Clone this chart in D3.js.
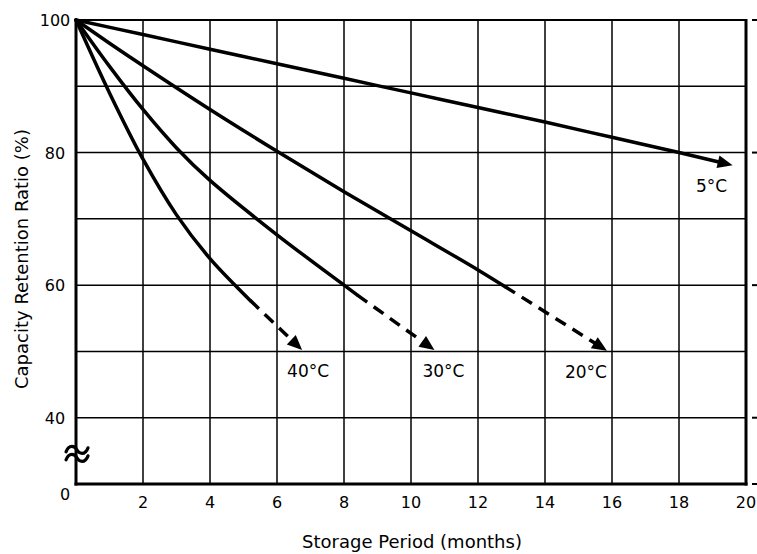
<!DOCTYPE html>
<html>
<head>
<meta charset="utf-8">
<script src="https://cdn.jsdelivr.net/npm/d3@7"></script>
<style>
  html, body { margin: 0; padding: 0; background: #fff; }
  svg { display: block; font-family: "DejaVu Sans", Verdana, sans-serif; }
</style>
</head>
<body>
<svg id="chart" width="757" height="554"></svg>
<script>
// Capacity retention vs. storage period at several temperatures
const xTicks = [2, 4, 6, 8, 10, 12, 14, 16, 18, 20];
const yTicks = [100, 80, 60, 40];
const yGrid = [40, 50, 60, 70, 80, 90];
const yBreakLabel = "0";

const temps = ["5°C", "20°C", "30°C", "40°C"];
// measured part of each curve: [month, %]
const solid5 = [[0, 100], [2, 97.8], [4, 95.6], [6, 93.4], [8, 91.2], [10, 89.0], [12, 86.8], [14, 84.6], [16, 82.3], [18, 80.0]];
const solid20 = [[0, 100], [1, 96.5], [2, 93.1], [4, 86.5], [6, 80.2], [8, 74.1], [10, 68.2], [12, 62.3], [12.8, 59.8]];
const solid30 = [[0, 100], [1, 93.0], [2, 86.5], [3, 80.7], [4, 75.8], [6, 67.6], [8, 60.0], [8.4, 58.5]];
const solid40 = [[0, 100], [1, 89.0], [2, 79.0], [3, 70.6], [4, 64.0], [5, 58.7], [5.2, 57.7]];
// arrow tips (projected end of each curve)
const tips = [[19.6, 78.1], [15.85, 50.1], [10.7, 50.2], [6.75, 50.2]];
const projected = [false, true, true, true];

const svg = d3.select("#chart");
const x = d3.scaleLinear().domain([0, 20]).range([76, 746]);
const y = d3.scaleLinear().domain([30, 100]).range([484, 20]);

// grid
const grid = svg.append("g").attr("stroke", "#000").attr("stroke-width", 1.5);
grid.selectAll("line.v").data(xTicks.slice(0, -1)).join("line")
  .attr("x1", d => x(d)).attr("x2", d => x(d))
  .attr("y1", y(30)).attr("y2", y(100));
grid.selectAll("line.h").data(yGrid).join("line")
  .attr("x1", x(0)).attr("x2", x(20))
  .attr("y1", d => y(d)).attr("y2", d => y(d));

// curves
const solids = [solid5, solid20, solid30, solid40];
const line = d3.line().x(d => x(d[0])).y(d => y(d[1])).curve(d3.curveCatmullRom.alpha(0.5));
const curves = svg.append("g").attr("fill", "none").attr("stroke", "#000")
  .attr("stroke-width", 3.5).attr("stroke-linejoin", "round");

const headLen = 15, headHalf = 6.5;
solids.forEach((pts, i) => {
  curves.append("path").attr("d", line(pts)).attr("stroke-linecap", "round");
  const s = pts[pts.length - 1];
  const sx = x(s[0]), sy = y(s[1]);
  const tx = x(tips[i][0]), ty = y(tips[i][1]);
  const len = Math.hypot(tx - sx, ty - sy);
  const ux = (tx - sx) / len, uy = (ty - sy) / len;
  const bx = tx - ux * headLen, by = ty - uy * headLen;
  curves.append("line")
    .attr("x1", sx).attr("y1", sy).attr("x2", bx + ux * 2).attr("y2", by + uy * 2)
    .attr("stroke-dasharray", projected[i] ? "12,8" : null);
  svg.append("path")
    .attr("d", `M${tx},${ty}L${bx - uy * headHalf},${by + ux * headHalf}L${bx + uy * headHalf},${by - ux * headHalf}Z`)
    .attr("fill", "#000");
  const dx = (i === 0 || i === 1) ? -21 : (i === 2 ? 9 : 6);
  svg.append("text")
    .attr("x", tx + dx).attr("y", ty + 27)
    .attr("text-anchor", "middle").attr("font-size", 17)
    .text(temps[i]);
});

// frame
const frame = svg.append("g").attr("stroke", "#000").attr("fill", "none");
frame.append("line").attr("x1", x(0)).attr("x2", x(20)).attr("y1", y(100)).attr("y2", y(100)).attr("stroke-width", 2);
frame.append("line").attr("x1", x(20)).attr("x2", x(20)).attr("y1", y(100) - 1).attr("y2", y(30) + 1.5).attr("stroke-width", 3);
frame.append("line").attr("x1", x(0)).attr("x2", x(0)).attr("y1", y(100) - 1).attr("y2", y(30) + 1.5).attr("stroke-width", 3);
frame.append("line").attr("x1", x(0) - 1.5).attr("x2", x(20) + 1.5).attr("y1", y(30)).attr("y2", y(30)).attr("stroke-width", 3);
// small outer ticks on the right edge
frame.selectAll("line.rt").data(yTicks.concat([30])).join("line")
  .attr("x1", x(20) + 6).attr("x2", x(20) + 12)
  .attr("y1", d => y(d)).attr("y2", d => y(d)).attr("stroke-width", 2);

// tick labels
svg.append("g").attr("font-size", 16).attr("text-anchor", "middle")
  .selectAll("text").data(yTicks).join("text")
  .attr("x", 55).attr("y", d => y(d) + 6).text(d => d);
svg.append("text").attr("font-size", 16).attr("text-anchor", "middle")
  .attr("x", x(0) - 11).attr("y", y(30) + 16).text(yBreakLabel);
svg.append("g").attr("font-size", 16).attr("text-anchor", "middle")
  .selectAll("text").data(xTicks).join("text")
  .attr("x", d => x(d)).attr("y", y(30) + 24).text(d => d);

// axis break mark: two stacked waves across the y axis
const bx0 = x(0) - 10, bcy = y(35) + 3;
const brk = svg.append("g").attr("fill", "none").attr("stroke", "#000").attr("stroke-width", 3.2)
  .attr("stroke-linecap", "round");
[-4, 4].forEach(off => {
  const yy = bcy + off;
  brk.append("path").attr("d",
    `M${bx0},${yy + 2}C${bx0 + 3},${yy - 6} ${bx0 + 9},${yy - 4} ${bx0 + 11},${yy}` +
    `S${bx0 + 19},${yy + 6} ${bx0 + 22},${yy - 2}`);
});

// axis titles
svg.append("text").attr("x", 412).attr("y", 548).attr("text-anchor", "middle")
  .attr("font-size", 18).text("Storage Period (months)");
svg.append("text").attr("transform", "translate(28,259) rotate(-90)")
  .attr("text-anchor", "middle").attr("font-size", 18)
  .text("Capacity Retention Ratio (%)");
</script>
</body>
</html>
